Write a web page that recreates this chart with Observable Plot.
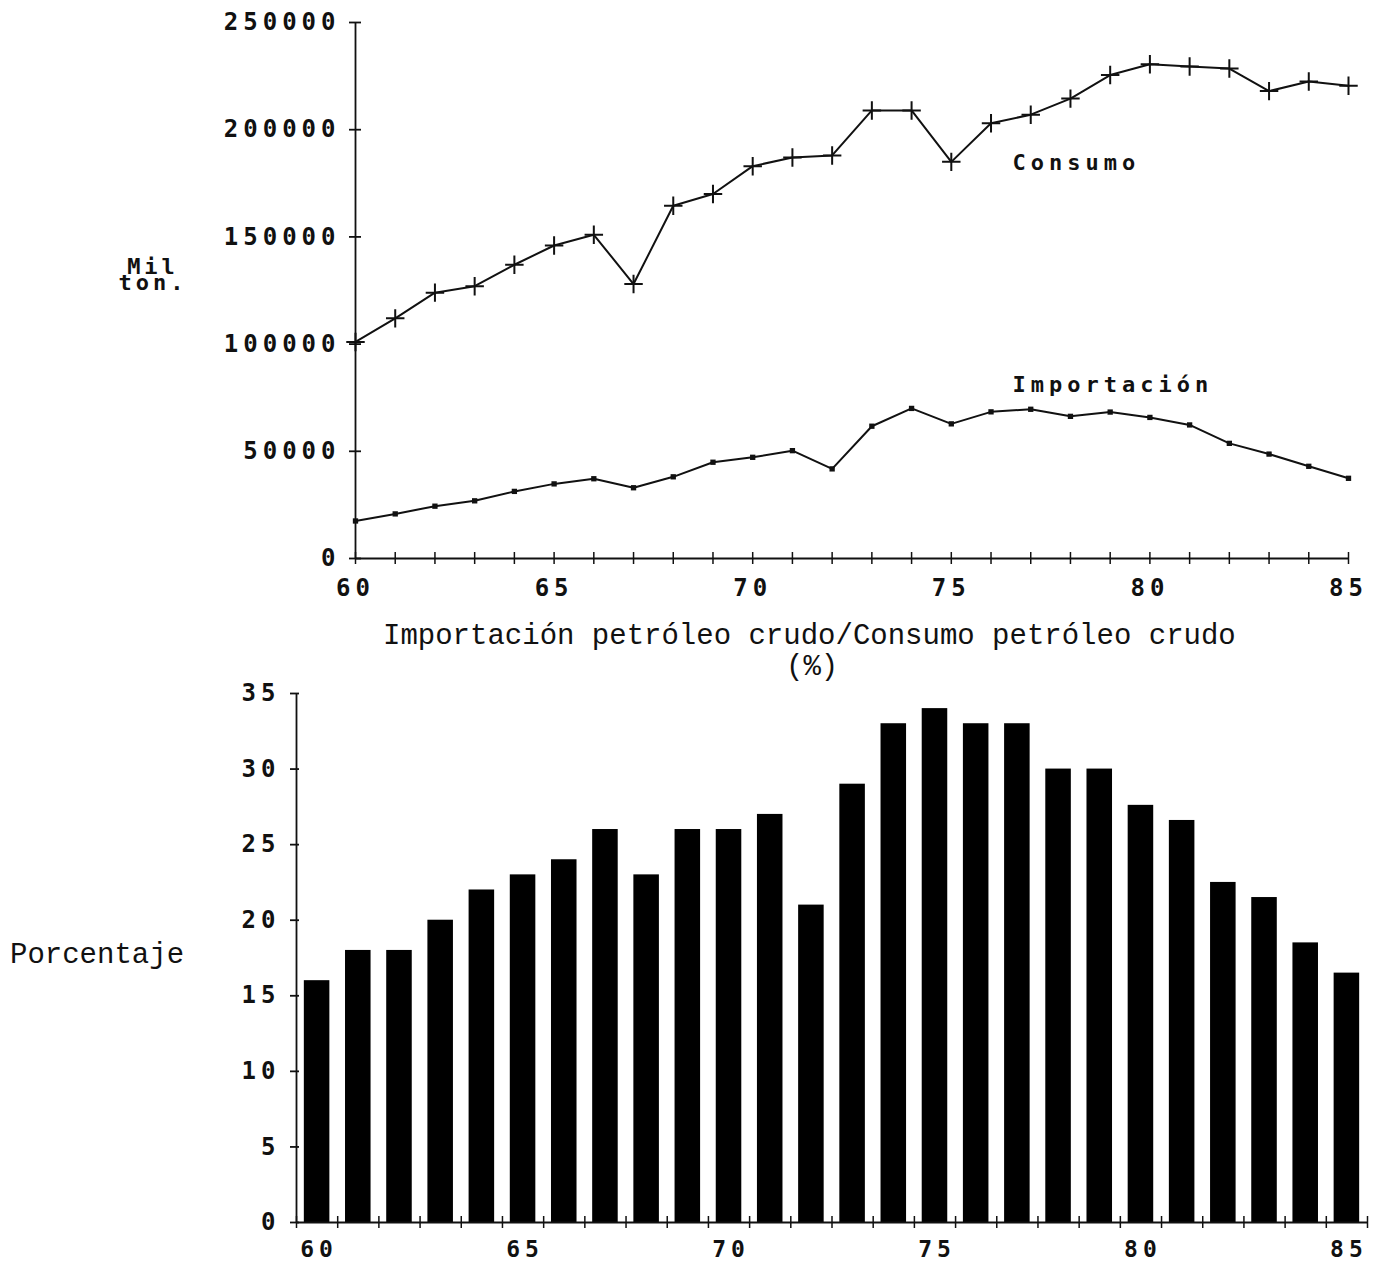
<!DOCTYPE html>
<html><head><meta charset="utf-8">
<script src="https://cdn.jsdelivr.net/npm/d3@7"></script>
<script src="https://cdn.jsdelivr.net/npm/@observablehq/plot@0.6"></script>
<style>
body{margin:0;background:#fff;}
#wrap{position:relative;width:1382px;height:1266px;overflow:hidden;background:#fff;}
#top,#bottom{position:absolute;left:0;}
#top{top:0px;}
#bottom{top:660px;}
.px text{font-family:"DejaVu Sans Mono",monospace;font-weight:bold;letter-spacing:5px;}
.lbl{position:absolute;font-family:"Liberation Mono","Courier New",monospace;color:#111;white-space:pre;line-height:1;}
.pxl{position:absolute;font-family:"DejaVu Sans Mono",monospace;font-weight:bold;color:#111;letter-spacing:4px;white-space:pre;}
</style></head>
<body>
<div id="wrap">
  <div id="top"></div>
  <div class="pxl" style="left:108px;top:259px;font-size:22px;line-height:16px;text-align:center;width:90px;">Mil
ton.</div>
  <div class="lbl" style="left:383px;top:622px;font-size:29px;">Importación petróleo crudo/Consumo petróleo crudo</div>
  <div class="lbl" style="left:786px;top:653px;font-size:29px;">(%)</div>
  <div class="lbl" style="left:10px;top:941px;font-size:29px;">Porcentaje</div>
  <div id="bottom"></div>
</div>
<script>
// ---- data ----
const years = [60,61,62,63,64,65,66,67,68,69,70,71,72,73,74,75,76,77,78,79,80,81,82,83,84,85];
const consumo = [101000,112000,124000,127000,137000,146000,151000,128000,164500,170000,183000,187000,188000,209000,209000,185000,203000,207000,214500,225500,230500,229500,228500,218000,222500,220500];
const importacion = [17500,20800,24400,26900,31300,34800,37200,33000,38100,44900,47200,50300,41800,61700,70000,62800,68400,69600,66300,68300,65800,62300,53700,48700,43000,37400];
const porcentaje = [16,18,18,20,22,23,24,26,23,26,26,27,21,29,33,34,33,33,30,30,27.6,26.6,22.5,21.5,18.5,16.5];
const topYTicks = [0,50000,100000,150000,200000,250000];
const xLabelTicks = [60,65,70,75,80,85];
const bottomYTicks = [0,5,10,15,20,25,30,35];
const bottomXTicks = [59.5,60.5,61.5,62.5,63.5,64.5,65.5,66.5,67.5,68.5,69.5,70.5,71.5,72.5,73.5,74.5,75.5,76.5,77.5,78.5,79.5,80.5,81.5,82.5,83.5,84.5,85.5];
const seriesLabels = [
  {text:"Consumo", x:76.54, y:184600},
  {text:"Importación", x:76.54, y:80800}
];

const rows = years.map((y,i)=>({year:y, consumo:consumo[i], importacion:importacion[i], pct:porcentaje[i]}));

const topChart = Plot.plot({
  width:1382, height:615,
  marginLeft:355, marginRight:34, marginTop:22, marginBottom:57,
  className:"px",
  style:{background:"transparent", color:"#111"},
  x:{domain:[60,85], axis:null, label:null},
  y:{domain:[0,250000], axis:null, label:null},
  marks:[
    Plot.ruleX([60],{y1:0,y2:250000,strokeWidth:1.8}),
    Plot.ruleY([0],{x1:60,x2:85,strokeWidth:1.8}),
    Plot.axisY(topYTicks,{anchor:"left",label:null,tickSize:6,tickPadding:9,fontSize:24,tickFormat:d=>String(d),strokeWidth:1.8}),
    Plot.axisY(topYTicks,{anchor:"left",label:null,tickSize:-6,tickFormat:()=>"",strokeWidth:1.8}),
    Plot.axisX(years,{anchor:"bottom",label:null,tickSize:6,tickFormat:()=>"",strokeWidth:1.5}),
    Plot.axisX(years,{anchor:"bottom",label:null,tickSize:-6,tickFormat:()=>"",strokeWidth:1.5}),
    Plot.axisX(xLabelTicks,{anchor:"bottom",label:null,tickSize:0,tickPadding:20,fontSize:24,dx:0,tickFormat:d=>String(d)}),
    Plot.line(rows,{x:"year",y:"consumo",stroke:"#111",strokeWidth:2}),
    Plot.dot(rows,{x:"year",y:"consumo",symbol:"plus",r:6,stroke:"#111",strokeWidth:2}),
    Plot.line(rows,{x:"year",y:"importacion",stroke:"#111",strokeWidth:2}),
    Plot.dot(rows,{x:"year",y:"importacion",symbol:"square",r:3,fill:"#111",stroke:null}),
    Plot.text(seriesLabels,{x:"x",y:"y",text:"text",textAnchor:"start",fontSize:22,fill:"#111"})
  ]
});
document.getElementById("top").appendChild(topChart);

const bottomChart = Plot.plot({
  width:1382, height:606,
  marginLeft:296, marginRight:15, marginTop:33, marginBottom:44,
  className:"px",
  style:{background:"transparent", color:"#111"},
  x:{domain:[59.5,85.5], axis:null, label:null},
  y:{domain:[0,35], axis:null, label:null},
  marks:[
    Plot.rectY(rows,{x1:d=>d.year-0.31,x2:d=>d.year+0.31,y:"pct",fill:"#000"}),
    Plot.ruleX([59.5],{y1:0,y2:35,strokeWidth:1.8}),
    Plot.ruleY([0],{x1:59.5,x2:85.5,strokeWidth:1.8}),
    Plot.axisY(bottomYTicks,{anchor:"left",label:null,tickSize:6,tickPadding:10,fontSize:24,tickFormat:d=>String(d),strokeWidth:1.8}),
    Plot.axisY(bottomYTicks,{anchor:"left",label:null,tickSize:-3,tickFormat:()=>"",strokeWidth:1.8}),
    Plot.axisX(bottomXTicks,{anchor:"bottom",label:null,tickSize:6,tickFormat:()=>"",strokeWidth:1.5}),
    Plot.axisX(bottomXTicks,{anchor:"bottom",label:null,tickSize:-6,tickFormat:()=>"",strokeWidth:1.5}),
    Plot.axisX(xLabelTicks,{anchor:"bottom",label:null,tickSize:0,tickPadding:18,fontSize:23,dx:2,tickFormat:d=>String(d)})
  ]
});
document.getElementById("bottom").appendChild(bottomChart);
</script>
</body></html>
